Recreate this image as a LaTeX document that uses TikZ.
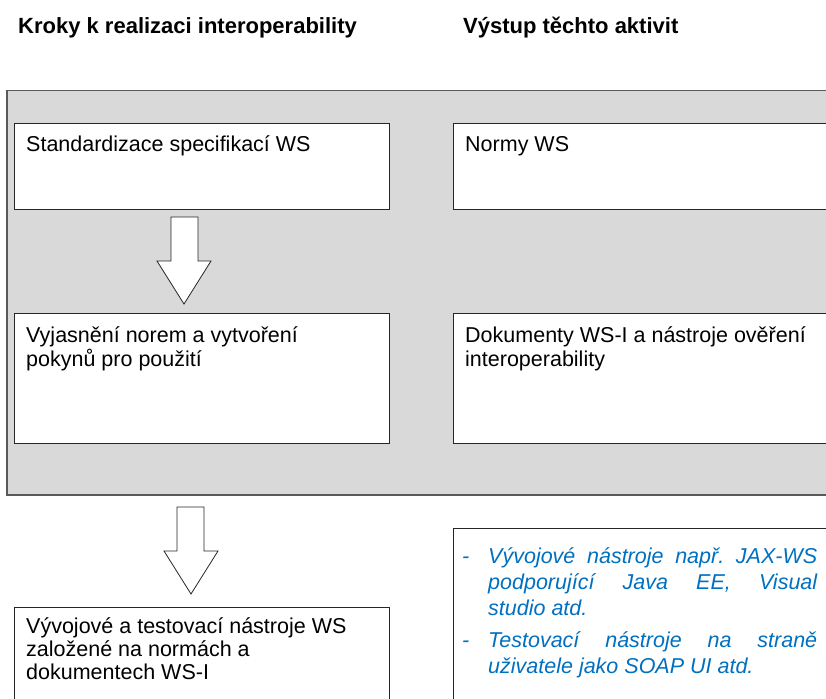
\documentclass[tikz,border=0pt]{standalone}
\usepackage{fontspec}
\setmainfont{Liberation Sans}
\frenchspacing
\definecolor{graybg}{HTML}{D9D9D9}
\definecolor{frame}{HTML}{595959}
\definecolor{itblue}{HTML}{0070C0}
\begin{document}
\begin{tikzpicture}[x=1pt,y=-1pt,
  box/.style={draw=black!85, line width=1pt, fill=white, inner sep=0pt, anchor=north west},
  txt/.style={anchor=base west, inner sep=0pt, font=\fontsize{21.5}{24}\selectfont},
  bluetxt/.style={anchor=base west, inner sep=0pt, text=itblue, font=\itshape\fontsize{21.5}{26}\selectfont},
  headtxt/.style={anchor=base west, inner sep=0pt, font=\bfseries\fontsize{22}{24}\selectfont},
  blockarrow/.style={draw=black!85, line width=0.8pt, fill=white, line join=miter}]
\clip (0,0) rectangle (826,698);
\fill[white] (0,0) rectangle (826,698);
% headings
\node[headtxt] (h1) at (18,34) {Kroky k realizaci interoperability};
\node[headtxt] (h2) at (463,34) {Výstup těchto aktivit};
% grey panel
\node[draw=frame, fill=graybg, line width=1.5pt, inner sep=0pt, anchor=north west,
      minimum width=840, minimum height=404] (panel) at (6,90) {};
% boxes
\node[box, minimum width=375, minimum height=86] (s1) at (14,123) {};
\node[box, minimum width=375, minimum height=130] (s2) at (14,313) {};
\node[box, minimum width=400, minimum height=86] (o1) at (453,123) {};
\node[box, minimum width=400, minimum height=130] (o2) at (453,313) {};
\node[box, minimum width=375, minimum height=110] (s3) at (14,607) {};
\node[box, minimum width=400, minimum height=190] (o3) at (453,528) {};
% texts
\node[txt] (t1) at (26,151) {Standardizace specifikací WS};
\node[txt] (t2) at (26,342) {\parbox[t]{360pt}{Vyjasnění norem a vytvoření\\ pokynů pro použití}};
\node[txt] (t3) at (465,151) {Normy WS};
\node[txt] (t4) at (465,342) {\parbox[t]{360pt}{Dokumenty WS-I a nástroje ověření\\ interoperability}};
\node[txt, font=\fontsize{21.5}{23}\selectfont] (t5) at (26,633) {\parbox[t]{360pt}{Vývojové a testovací nástroje WS\\ založené na normách a\\ dokumentech WS-I}};
\node[bluetxt] (d1) at (462,563) {-};
\node[bluetxt] (b1) at (488,563) {\parbox[t]{329pt}{Vývojové nástroje např. JAX-WS\linebreak podporující Java EE, Visual\linebreak studio atd.}};
\node[bluetxt] (d2) at (462,647) {-};
\node[bluetxt] (b2) at (488,647) {\parbox[t]{329pt}{Testovací nástroje na straně\linebreak uživatele jako SOAP UI atd.}};
% block arrows
\draw[blockarrow] (171,217) -- (198,217) -- (198,261) -- (211,261) -- (184,304) -- (157,261) -- (171,261) -- cycle;
\draw[blockarrow] (177,507) -- (204,507) -- (204,551) -- (218,551) -- (191,594) -- (164,551) -- (177,551) -- cycle;
\end{tikzpicture}
\end{document}
